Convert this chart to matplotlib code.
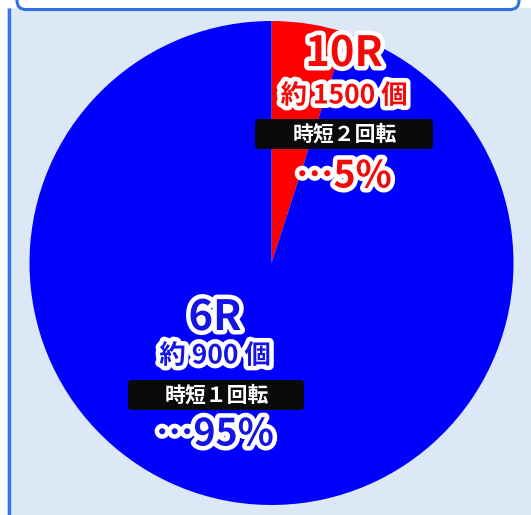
import matplotlib
matplotlib.use("Agg")
import matplotlib.pyplot as plt
import matplotlib.patheffects as pe
from matplotlib.patches import Rectangle, FancyBboxPatch

plt.rcParams['font.family'] = ['Noto Sans CJK JP', 'DejaVu Sans']

# chart data
rounds = ["10R", "6R"]
payouts = ["約 1500 個", "約 900 個"]
jitan = ["時短２回転", "時短１回転"]
shares = [5, 95]
slice_colors = ["#ff0000", "#0000ff"]
text_colors = ["#f20a0a", "#1414e6"]

W, H = 531, 515


def Y(y):
    # pixel row -> data y (axes run bottom-up)
    return H - y


fig = plt.figure(figsize=(W / 100, H / 100), dpi=100)
fig.patch.set_facecolor("white")
ax = fig.add_axes([0, 0, 1, 1])

# panel background + borders
ax.add_patch(Rectangle((7, 0), W - 7, Y(8), facecolor="#dce8f6",
                       edgecolor="none", zorder=0))
ax.plot([8.5, 8.5], [0, Y(8)], color="#2f7ae8", lw=2.4,
        solid_capstyle="butt", zorder=0.5)
ax.add_patch(FancyBboxPatch((17, Y(9.5)), 502, 40,
                            boxstyle="round,pad=0,rounding_size=9",
                            facecolor="white", edgecolor="#2f6fe6",
                            lw=2.2, zorder=0.6))

# pie
ax.pie(shares, colors=slice_colors, startangle=90, counterclock=False,
       center=(271.5, Y(263)), radius=242, frame=True,
       wedgeprops=dict(linewidth=0))

ax.set_xlim(0, W)
ax.set_ylim(0, H)
ax.set_aspect("auto")
ax.axis("off")

outline = [pe.withStroke(linewidth=6.5, foreground="white")]

# label layout per slice: (x center, y of round, y of payout, box, y of share)
layouts = [
    dict(x=344, y_round=54, y_pay=96, box=(255, 119, 433, 149), y_share=176),
    dict(x=215, y_round=318, y_pay=356, box=(128, 380, 304, 410), y_share=434),
]

for i, lay in enumerate(layouts):
    c = text_colors[i]
    ax.text(lay["x"], Y(lay["y_round"]), rounds[i], ha="center", va="center",
            fontsize=30, fontweight="bold", color=c, path_effects=outline,
            zorder=5)
    ax.text(lay["x"], Y(lay["y_pay"]), payouts[i], ha="center", va="center",
            fontsize=19, fontweight="bold", color=c, path_effects=outline,
            zorder=5)
    x0, y0, x1, y1 = lay["box"]
    ax.add_patch(FancyBboxPatch((x0, Y(y1)), x1 - x0, y1 - y0,
                                boxstyle="round,pad=0,rounding_size=4",
                                facecolor="#0a0a0a", edgecolor="none",
                                zorder=4))
    ax.text((x0 + x1) / 2 + 1, Y((y0 + y1) / 2), jitan[i], ha="center",
            va="center", fontsize=15, fontweight="bold", color="white",
            zorder=5)
    ax.text(lay["x"], Y(lay["y_share"]), f"…{shares[i]}%", ha="center",
            va="center", fontsize=27, fontweight="bold", color=c,
            path_effects=outline, zorder=5)

fig.savefig("out.png", dpi=100, facecolor=fig.get_facecolor())
